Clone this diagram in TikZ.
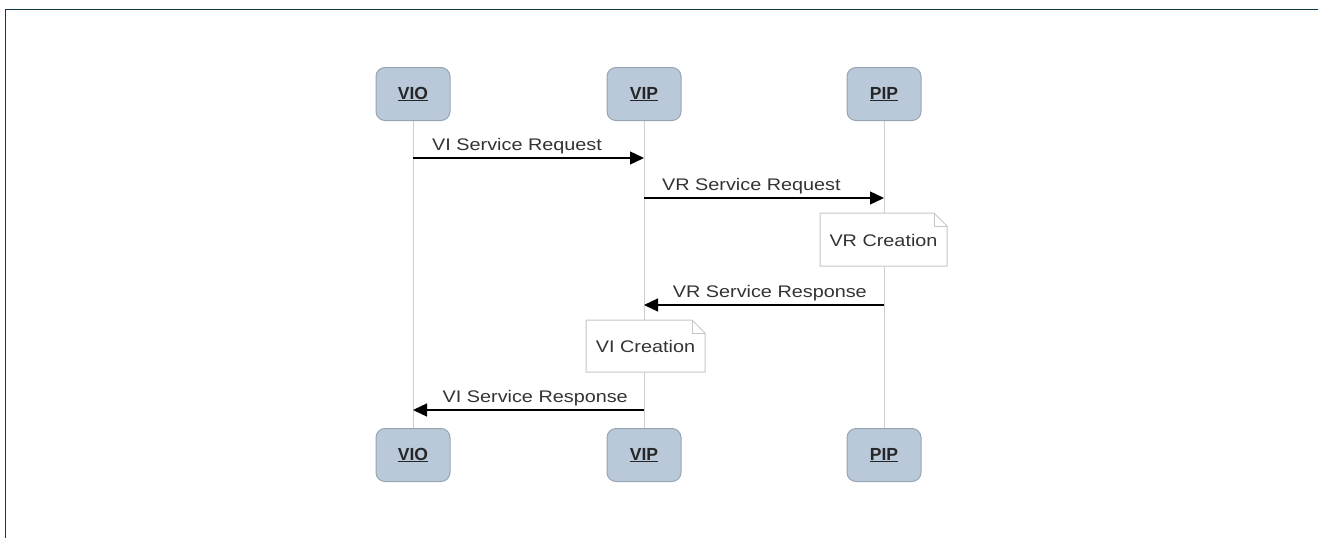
\documentclass[tikz,border=0pt]{standalone}
\usepackage{fontspec}
\setmainfont{Liberation Sans}
\newfontfamily\msgfont[FakeStretch=1.18]{Liberation Sans}
\usetikzlibrary{arrows.meta}
\definecolor{actorfill}{HTML}{B9C9D9}
\definecolor{actorline}{HTML}{97A5B2}
\definecolor{lifeline}{HTML}{CFCFCF}
\definecolor{noteline}{HTML}{C6C6C6}
\definecolor{framecol}{HTML}{0D3B47}
\tikzset{
  actor/.style={draw=actorline, line width=1pt, fill=actorfill, rounded corners=9pt,
    minimum width=74pt, minimum height=53pt, inner sep=0pt,
    font=\fontsize{17.5}{19}\selectfont\bfseries, text=black!85},
  life/.style={draw=lifeline, line width=1pt},
  msg/.style={draw=black, line width=1.3pt, -{Triangle[length=14pt,width=13pt]}},
  msglabel/.style={font=\msgfont\fontsize{16.8}{18}\selectfont, text=black!80, inner sep=0pt},
  notebox/.style={draw=noteline, fill=white, line width=1pt},
}
\begin{document}
\begin{tikzpicture}[x=1pt,y=-1pt]
\useasboundingbox (0,0) rectangle (1319,538);
% outer frame (top and left edges)
\draw[framecol, line width=1.4pt] (1318,9.3) -- (5.3,9.3) -- (5.3,538);

% actor boxes, top and bottom
\node[actor] (vioT) at (413,94) {\underline{VIO}};
\node[actor] (vipT) at (644,94) {\underline{VIP}};
\node[actor] (pipT) at (884,94) {\underline{PIP}};
\node[actor] (vioB) at (413,455) {\underline{VIO}};
\node[actor] (vipB) at (644,455) {\underline{VIP}};
\node[actor] (pipB) at (884,455) {\underline{PIP}};

% lifelines
\draw[life] (vioT.south) -- (vioB.north);
\draw[life] (vipT.south) -- (vipB.north);
\draw[life] (pipT.south) -- (pipB.north);

% message anchor points on the lifelines
\coordinate (m1a) at (vioT.south |- 0,158);
\coordinate (m1b) at (vipT.south |- 0,158);
\coordinate (m2a) at (vipT.south |- 0,198);
\coordinate (m2b) at (pipT.south |- 0,198);
\coordinate (m3a) at (pipT.south |- 0,305);
\coordinate (m3b) at (vipT.south |- 0,305);
\coordinate (m4a) at (vipT.south |- 0,410);
\coordinate (m4b) at (vioT.south |- 0,410);

% messages
\draw[msg] (m1a) -- (m1b);
\node[msglabel, anchor=base west] (l1) at ([shift={(19,-8)}]m1a) {VI Service Request};
\draw[msg] (m2a) -- (m2b);
\node[msglabel, anchor=base west] (l2) at ([shift={(18,-8)}]m2a) {VR Service Request};
\draw[msg] (m3a) -- (m3b);
\node[msglabel, anchor=base east] (l3) at ([shift={(-17,-8)}]m3a) {VR Service Response};
\draw[msg] (m4a) -- (m4b);
\node[msglabel, anchor=base east] (l4) at ([shift={(-16,-8)}]m4a) {VI Service Response};

% notes with folded corner
\draw[notebox] (820,213) -- (934,213) -- (947,226) -- (947,266) -- (820,266) -- cycle;
\draw[noteline, line width=1pt] (934,213) -- (934,226) -- (947,226);
\node[msglabel] (n1) at (883.5,240) {VR Creation};

\draw[notebox] (586,320) -- (692,320) -- (705,333) -- (705,372) -- (586,372) -- cycle;
\draw[noteline, line width=1pt] (692,320) -- (692,333) -- (705,333);
\node[msglabel] (n2) at (645.5,346) {VI Creation};
\end{tikzpicture}
\end{document}
